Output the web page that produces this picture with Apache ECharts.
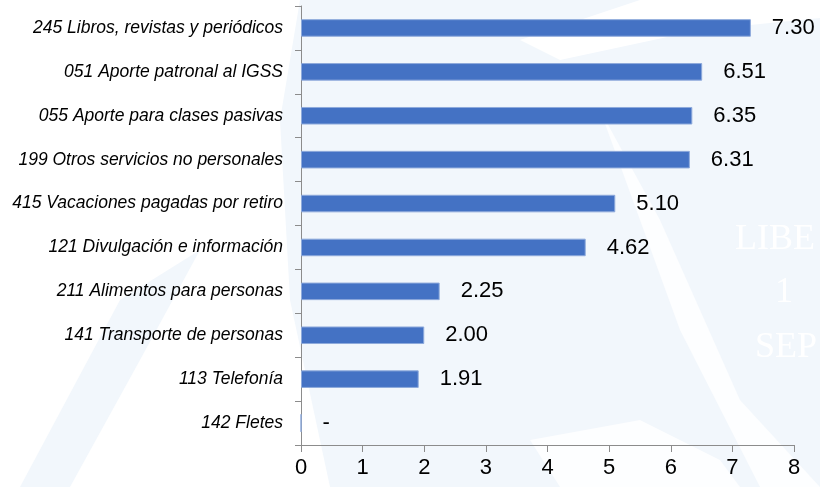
<!DOCTYPE html>
<html>
<head>
<meta charset="utf-8">
<script src="https://cdn.jsdelivr.net/npm/echarts@6/dist/echarts.min.js"></script>
<style>
    html, body { margin: 0; padding: 0; background: #ffffff; }
    #chart { width: 820px; height: 487px; }
</style>
</head>
<body>
<div id="chart"></div>
<script>
// categorias (de arriba hacia abajo)
var categories = [
    '245 Libros, revistas y periódicos',
    '051 Aporte patronal al IGSS',
    '055 Aporte para clases pasivas',
    '199 Otros servicios no personales',
    '415 Vacaciones pagadas por retiro',
    '121 Divulgación e información',
    '211 Alimentos para personas',
    '141 Transporte de personas',
    '113 Telefonía',
    '142 Fletes'
];
// valores
var values = [7.30, 6.51, 6.35, 6.31, 5.10, 4.62, 2.25, 2.00, 1.91, 0];
// eje x
var xTicks = [0, 1, 2, 3, 4, 5, 6, 7, 8];

var font = '"Liberation Sans", Arial, sans-serif';
var pale = '#f2f7fc';

var myChart = echarts.init(document.getElementById('chart'));
var option = {
    backgroundColor: '#ffffff',
    animation: false,
    //marca de agua de fondo
    graphic: [
        {
            type: 'polygon', z: -10, silent: true,
            shape: { points: [[300, 0], [820, 0], [820, 487], [330, 487], [290, 300], [280, 120]] },
            style: { fill: pale }
        },
        {
            type: 'polygon', z: -9, silent: true,
            shape: { points: [[560, 60], [700, 30], [820, 18], [820, 0], [640, 0], [520, 40]] },
            style: { fill: '#ffffff' }
        },
        {
            type: 'polygon', z: -9, silent: true,
            shape: { points: [[600, 110], [680, 330], [760, 487], [820, 487], [740, 400], [660, 220]] },
            style: { fill: '#ffffff', opacity: 0.8 }
        },
        {
            type: 'polygon', z: -9, silent: true,
            shape: { points: [[20, 487], [120, 300], [200, 250], [140, 360], [70, 487]] },
            style: { fill: pale }
        },
        {
            type: 'polygon', z: -9, silent: true,
            shape: { points: [[530, 440], [640, 420], [720, 460], [740, 487], [560, 487]] },
            style: { fill: '#ffffff', opacity: 0.8 }
        },
        {
            type: 'text', z: -8, silent: true, left: 735, top: 222,
            style: { text: 'LIBE', fill: '#ffffff', font: '36px "Liberation Serif", serif' }
        },
        {
            type: 'text', z: -8, silent: true, left: 775, top: 275,
            style: { text: '1', fill: '#ffffff', font: '36px "Liberation Serif", serif' }
        },
        {
            type: 'text', z: -8, silent: true, left: 755, top: 330,
            style: { text: 'SEP', fill: '#ffffff', font: '36px "Liberation Serif", serif' }
        }
    ],
    grid: {
        left: 301,
        right: 26,
        top: 6,
        bottom: 42,
        outerBoundsMode: 'none'
    },
    xAxis: {
        type: 'value',
        min: xTicks[0],
        max: xTicks[xTicks.length - 1],
        interval: 1,
        splitLine: { show: false },
        axisLine: { show: true, lineStyle: { color: '#8c8c8c', width: 1 } },
        axisTick: { show: true, length: 7, lineStyle: { color: '#8c8c8c' } },
        axisLabel: {
            color: '#000000',
            fontFamily: font,
            fontSize: 22,
            margin: 12
        }
    },
    yAxis: {
        type: 'category',
        inverse: true,
        data: categories,
        axisLine: { show: true, lineStyle: { color: '#8c8c8c', width: 1 } },
        axisTick: { show: true, length: 6, lineStyle: { color: '#8c8c8c' } },
        axisLabel: {
            color: '#000000',
            fontFamily: font,
            fontStyle: 'italic',
            fontSize: 17.5,
            margin: 18
        }
    },
    series: [
        {
            type: 'bar',
            data: values,
            barWidth: '40%',
            itemStyle: {
                color: '#4472c4',
                borderColor: '#8eaadb',
                borderWidth: 1
            },
            label: {
                show: true,
                position: 'right',
                distance: 21,
                color: '#000000',
                fontFamily: font,
                fontSize: 22,
                formatter: function (p) {
                    return p.value === 0 ? '-' : p.value.toFixed(2);
                }
            }
        }
    ]
};
myChart.setOption(option);
</script>
</body>
</html>
